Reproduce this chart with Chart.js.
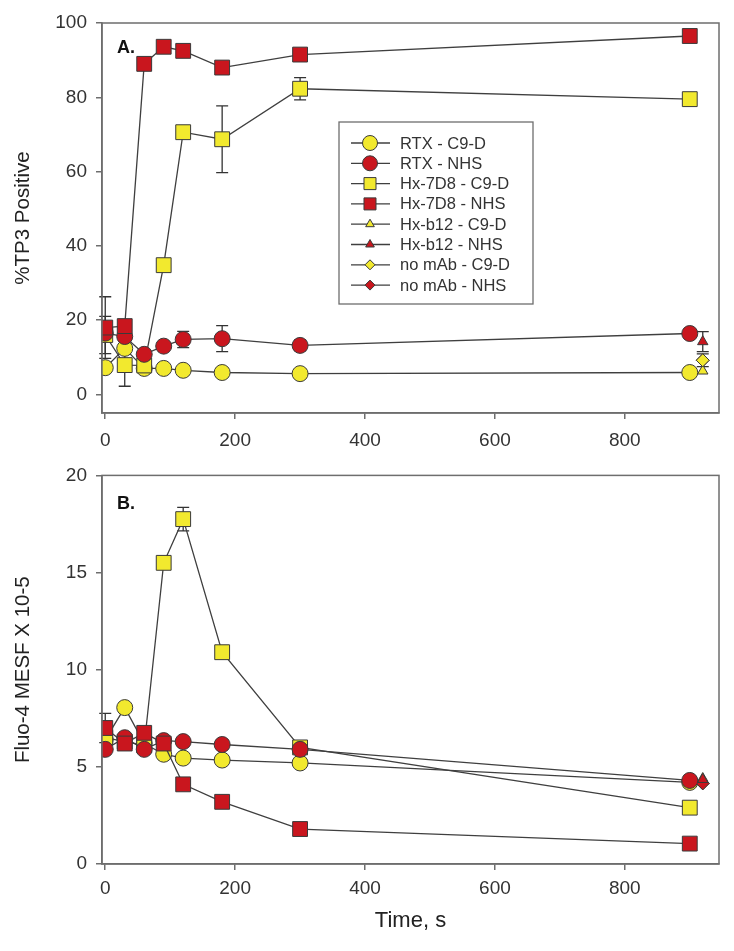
<!DOCTYPE html>
<html>
<head>
<meta charset="utf-8">
<script src="https://cdn.jsdelivr.net/npm/chart.js@4/dist/chart.umd.min.js"></script>
<style>
  html, body { margin: 0; padding: 0; background: #fff; }
  #wrapA { position: absolute; left: 0; top: 0; }
  #wrapB { position: absolute; left: 0; top: 455px; }
</style>
</head>
<body>
<div id="wrapA"><canvas id="chartA" width="734" height="455"></canvas></div>
<div id="wrapB"><canvas id="chartB" width="734" height="496"></canvas></div>
<script>
// time points (s)
var times = [0, 30, 60, 90, 120, 180, 300, 900];
var sideTime = [920];
var xTicks = [0, 200, 400, 600, 800];
var yTicksA = [0, 20, 40, 60, 80, 100];
var yTicksB = [0, 5, 10, 15, 20];

var seriesLabels = ['RTX - C9-D', 'RTX - NHS', 'Hx-7D8 - C9-D', 'Hx-7D8 - NHS',
                    'Hx-b12 - C9-D', 'Hx-b12 - NHS', 'no mAb - C9-D', 'no mAb - NHS'];

// A. %TP3 positive
var rtxC9dA   = [7.2, 12.4, 7.0, 7.0, 6.5, 5.9, 5.6, 5.9];
var rtxNhsA   = [16.5, 15.6, 10.8, 13.0, 14.8, 15.0, 13.2, 16.4];
var hx7d8C9dA = [16.0, 7.9, 7.8, 34.8, 70.6, 68.7, 82.3, 79.5];
var hx7d8NhsA = [18.0, 18.4, 89.0, 93.6, 92.5, 88.0, 91.5, 96.5];
var hxb12C9dA = [6.3];
var hxb12NhsA = [14.2];
var noMabC9dA = [9.2];
var noMabNhsA = [9.2];
// error bars (+/-), 0 = none
var rtxNhsErrA   = [0, 0, 0, 0, 2.2, 3.5, 1.5, 0];
var hx7d8C9dErrA = [5.0, 5.7, 0, 0, 0, 9.0, 3.0, 0];
var hx7d8NhsErrA = [8.3, 0, 0, 0, 0, 0, 0, 0];
var hxb12NhsErrA = [2.7];
var noMabC9dErrA = [1.7];

// B. Fluo-4 MESF x 10-5
var rtxC9dB   = [6.4, 8.05, 6.2, 5.65, 5.45, 5.35, 5.2, 4.2];
var rtxNhsB   = [5.9, 6.5, 5.9, 6.35, 6.3, 6.15, 5.9, 4.3];
var hx7d8C9dB = [6.5, 6.3, 6.1, 15.5, 17.75, 10.9, 6.0, 2.9];
var hx7d8NhsB = [7.0, 6.2, 6.75, 6.2, 4.1, 3.2, 1.8, 1.05];
var hxb12C9dB = [4.4];
var hxb12NhsB = [4.35];
var noMabC9dB = [4.15];
var noMabNhsB = [4.15];
var hx7d8C9dErrB = [0, 0, 0, 0, 0.6, 0, 0, 0];
var hx7d8NhsErrB = [0.75, 0, 0, 0, 0, 0, 0, 0];

var yellow = '#f2e92e';
var red = '#c9161e';
var edge = '#3a3a3a';
var lineCol = '#3f3f3f';
var axisCol = '#6e6e6e';
var txtCol = '#333';
var fam = '"Liberation Sans", Arial, Helvetica, sans-serif';

function pts(xs, ys) {
    return ys.map(function(v, i) { return { x: xs[i], y: v }; });
}

function makeSet(label, xs, ys, errs, color, shape, radius, order) {
    return {
        label: label,
        data: pts(xs, ys),
        errors: errs || null,
        order: order,
        borderColor: lineCol,
        borderWidth: 1.3,
        backgroundColor: color,
        pointBackgroundColor: color,
        pointBorderColor: edge,
        pointBorderWidth: 1,
        pointStyle: shape,
        pointRadius: radius,
        pointHoverRadius: radius,
        showLine: xs.length > 1,
        tension: 0,
        fill: false
    };
}

function datasetsFor(v, e, diamondOrder) {
    return [
        makeSet(seriesLabels[0], times, v[0], null, yellow, 'circle', 8, 6),
        makeSet(seriesLabels[1], times, v[1], e[1], red, 'circle', 8, 2),
        makeSet(seriesLabels[2], times, v[2], e[2], yellow, 'rect', 10.5, 5),
        makeSet(seriesLabels[3], times, v[3], e[3], red, 'rect', 10.5, 1),
        makeSet(seriesLabels[4], sideTime, v[4], null, yellow, 'triangle', 6, 7),
        makeSet(seriesLabels[5], sideTime, v[5], e[5], red, 'triangle', 6, 3),
        makeSet(seriesLabels[6], sideTime, v[6], e[6], yellow, 'rectRot', 6.5, diamondOrder[0]),
        makeSet(seriesLabels[7], sideTime, v[7], null, red, 'rectRot', 6.5, diamondOrder[1])
    ];
}

// error bars, drawn under the markers
var errorBars = {
    id: 'errorBars',
    beforeDatasetsDraw: function(chart) {
        var ctx = chart.ctx, xs = chart.scales.x, ys = chart.scales.y;
        ctx.save();
        ctx.strokeStyle = '#333';
        ctx.lineWidth = 1.3;
        chart.data.datasets.forEach(function(ds) {
            if (!ds.errors) return;
            ds.data.forEach(function(p, i) {
                var err = ds.errors[i];
                if (!err) return;
                var px = xs.getPixelForValue(p.x);
                var top = ys.getPixelForValue(p.y + err);
                var bot = ys.getPixelForValue(p.y - err);
                ctx.beginPath();
                ctx.moveTo(px, top); ctx.lineTo(px, bot);
                ctx.moveTo(px - 6, top); ctx.lineTo(px + 6, top);
                ctx.moveTo(px - 6, bot); ctx.lineTo(px + 6, bot);
                ctx.stroke();
            });
        });
        ctx.restore();
    }
};

// closed frame round the plot + panel letter
var frame = {
    id: 'frame',
    afterDraw: function(chart, args, opts) {
        var a = chart.chartArea, ctx = chart.ctx;
        ctx.save();
        ctx.strokeStyle = axisCol;
        ctx.lineWidth = 1.5;
        ctx.strokeRect(a.left, a.top, a.right - a.left, a.bottom - a.top);
        ctx.fillStyle = '#111';
        ctx.font = 'bold 18px ' + fam;
        ctx.textBaseline = 'middle';
        ctx.fillText(opts.letter, a.left + 15, a.top + opts.letterDy);
        ctx.restore();
    }
};

function drawMarker(ctx, shape, r, x, y) {
    if (Chart.helpers && Chart.helpers.drawPoint) {
        Chart.helpers.drawPoint(ctx, { pointStyle: shape, radius: r, borderWidth: 1, rotation: 0 }, x, y);
        return;
    }
    ctx.beginPath();
    ctx.arc(x, y, r, 0, Math.PI * 2);
    ctx.fill(); ctx.stroke();
}

var boxLegend = {
    id: 'boxLegend',
    afterDraw: function(chart, args, opts) {
        if (!opts.show) return;
        var ctx = chart.ctx;
        ctx.save();
        ctx.fillStyle = '#fff';
        ctx.strokeStyle = axisCol;
        ctx.lineWidth = 1.3;
        ctx.fillRect(opts.x, opts.y, opts.w, opts.h);
        ctx.strokeRect(opts.x, opts.y, opts.w, opts.h);
        ctx.font = '16.5px ' + fam;
        ctx.textBaseline = 'middle';
        chart.data.datasets.forEach(function(ds, i) {
            var cy = opts.y + 21 + i * 20.3;
            ctx.strokeStyle = lineCol;
            ctx.lineWidth = 1.3;
            ctx.beginPath();
            ctx.moveTo(opts.x + 12, cy); ctx.lineTo(opts.x + 51, cy);
            ctx.stroke();
            ctx.fillStyle = ds.pointBackgroundColor;
            ctx.strokeStyle = edge;
            ctx.lineWidth = 1;
            var r = ds.pointStyle === 'rect' ? 8.5 : (ds.pointStyle === 'circle' ? 7.5 : 5);
            drawMarker(ctx, ds.pointStyle, r, opts.x + 31, cy);
            ctx.fillStyle = txtCol;
            ctx.fillText(ds.label, opts.x + 61, cy + 1);
        });
        ctx.restore();
    }
};

function axisX(height, pad, tickColor, title) {
    return {
        type: 'linear',
        min: -5,
        max: 945,
        afterBuildTicks: function(s) { s.ticks = xTicks.map(function(v) { return { value: v }; }); },
        afterFit: function(s) { s.height = height; },
        grid: { drawOnChartArea: false, tickLength: 6, color: axisCol, lineWidth: 1.5 },
        border: { color: axisCol, width: 1.5 },
        ticks: { color: tickColor, padding: pad, maxRotation: 0, font: { family: fam, size: 19 } },
        title: title
    };
}

function axisY(min, max, ticks, title) {
    return {
        type: 'linear',
        min: min,
        max: max,
        afterBuildTicks: function(s) { s.ticks = ticks.map(function(v) { return { value: v }; }); },
        afterFit: function(s) { s.width = 102; },
        grid: { drawOnChartArea: false, tickLength: 6, color: axisCol, lineWidth: 1.5 },
        border: { color: axisCol, width: 1.5 },
        ticks: { color: txtCol, padding: 9, font: { family: fam, size: 19 } },
        title: { display: true, text: title, color: '#222', padding: { top: 11, bottom: 0 },
                 font: { family: fam, size: 20.5 } }
    };
}

var chartA = new Chart(document.getElementById('chartA'), {
    type: 'line',
    data: {
        datasets: datasetsFor(
            [rtxC9dA, rtxNhsA, hx7d8C9dA, hx7d8NhsA, hxb12C9dA, hxb12NhsA, noMabC9dA, noMabNhsA],
            [null, rtxNhsErrA, hx7d8C9dErrA, hx7d8NhsErrA, null, hxb12NhsErrA, noMabC9dErrA, null],
            [4, 8])
    },
    options: {
        responsive: false,
        animation: false,
        layout: { padding: { left: 0, right: 15, top: 23, bottom: 0 } },
        plugins: {
            legend: { display: false },
            tooltip: { enabled: false },
            frame: { letter: 'A.', letterDy: 25 },
            boxLegend: { show: true, x: 339, y: 122, w: 194, h: 182 }
        },
        scales: {
            x: axisX(42, 10, txtCol, { display: false }),
            y: axisY(-5, 100, yTicksA, '%TP3 Positive')
        }
    },
    plugins: [errorBars, frame, boxLegend]
});

var chartB = new Chart(document.getElementById('chartB'), {
    type: 'line',
    data: {
        datasets: datasetsFor(
            [rtxC9dB, rtxNhsB, hx7d8C9dB, hx7d8NhsB, hxb12C9dB, hxb12NhsB, noMabC9dB, noMabNhsB],
            [null, null, hx7d8C9dErrB, hx7d8NhsErrB, null, null, null, null],
            [8, 4])
    },
    options: {
        responsive: false,
        animation: false,
        layout: { padding: { left: 0, right: 15, top: 17, bottom: 0 } },
        plugins: {
            legend: { display: false },
            tooltip: { enabled: false },
            frame: { letter: 'B.', letterDy: 29 },
            boxLegend: { show: false }
        },
        scales: {
            x: axisX(87, 7, txtCol, { display: true, text: 'Time, s', color: '#222',
                 padding: { top: 0, bottom: 17 }, font: { family: fam, size: 22 } }),
            y: axisY(0, 20, yTicksB, 'Fluo-4 MESF X 10-5')
        }
    },
    plugins: [errorBars, frame, boxLegend]
});
</script>
</body>
</html>
